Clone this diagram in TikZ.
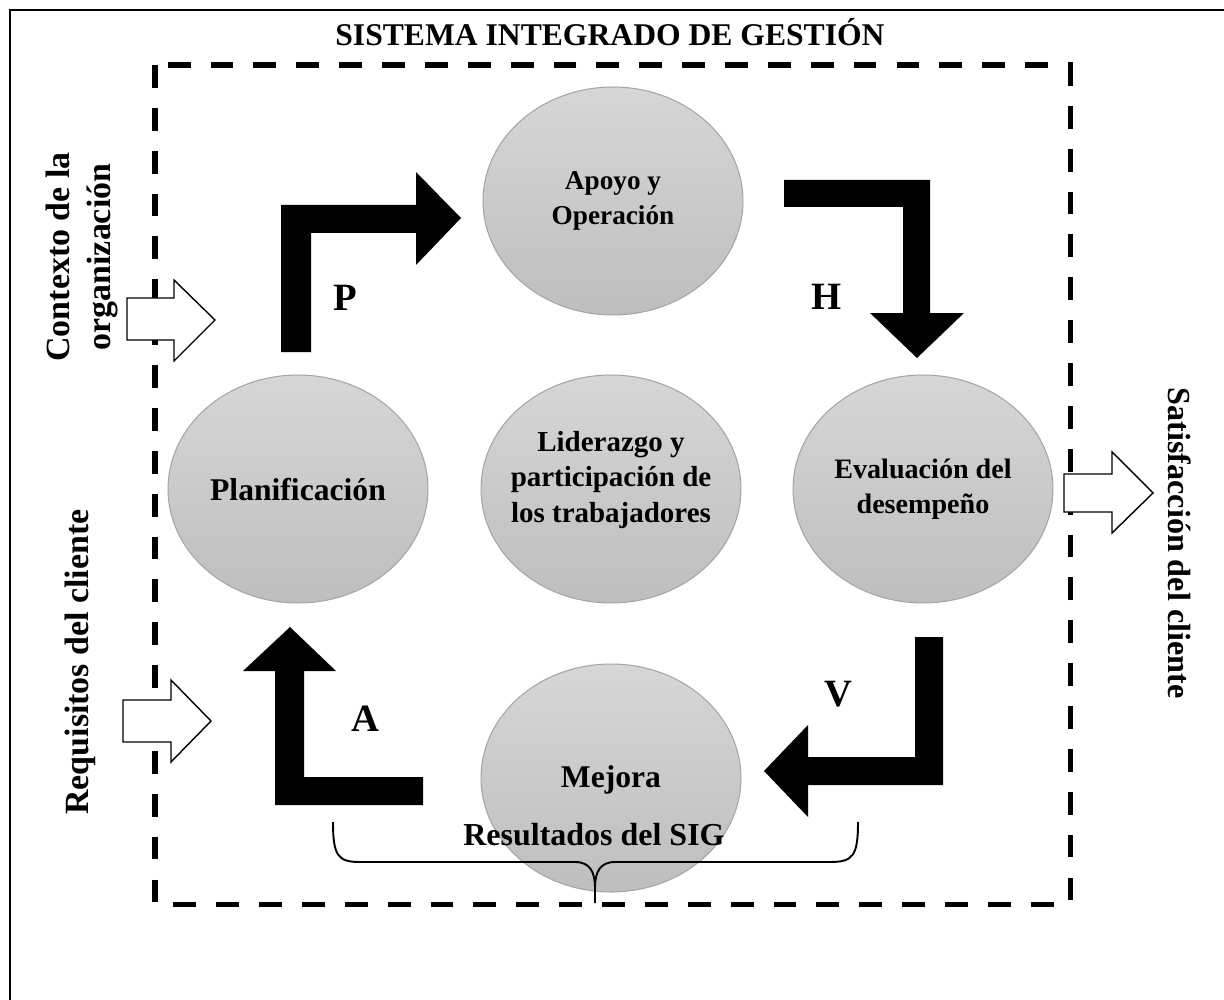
\documentclass[tikz,border=0pt]{standalone}
\usepackage{fontspec}
\setmainfont{Liberation Serif}
\usetikzlibrary{shapes.geometric}

\definecolor{elltop}{HTML}{D6D6D6}
\definecolor{ellbot}{HTML}{BEBEBE}
\definecolor{ellborde}{HTML}{A5A5A5}

\newcommand{\letrero}[1]{\bfseries\fontsize{#1}{20}\selectfont}

\tikzset{
  etapa/.style={ellipse, draw=ellborde, line width=0.6pt, top color=elltop, bottom color=ellbot,
    minimum width=5.2cm, minimum height=4.56cm, inner sep=0pt},
  texto/.style={align=center, inner sep=0pt},
  letra/.style={font=\bfseries\fontsize{22}{26}\selectfont},
  lateral/.style={align=center, font=\bfseries\fontsize{19.3}{23}\selectfont},
  flechanegra/.style={fill=black},
  flechablanca/.style={draw=black, fill=white, line width=0.8pt},
}

\begin{document}
\begin{tikzpicture}[x=0.02cm, y=-0.02cm]
  \useasboundingbox (0,0) rectangle (1224,1000);

  % Marco exterior
  \draw[line width=1.5pt] (10,1000) -- (10,10) -- (1224,10);

  % Titulo
  \node[anchor=base, font=\bfseries\fontsize{18}{22}\selectfont] (titulo) at (610,46) {SISTEMA INTEGRADO DE GESTIÓN};

  % Recuadro discontinuo
  \draw[line width=2.85pt, dash pattern=on 13pt off 11.4pt] (155,65) rectangle (1070,904);

  % Etapas
  \node[etapa] (apoyo) at (613,201) {};
  \node[etapa] (planif) at (298,489) {};
  \node[etapa] (lider) at (611,489) {};
  \node[etapa] (evalua) at (923,489) {};
  \node[etapa] (mejora) at (611,778) {};

  \node[texto, font=\letrero{15.5}] (apoyotxt) at (apoyo) {Apoyo y\\Operación};
  \node[texto, font=\letrero{18}] (planiftxt) at (298,490) {Planificación};
  \node[texto, font=\letrero{16.5}] (lidertxt) at (611,480) {Liderazgo y\\participación de\\los trabajadores};
  \node[texto, font=\letrero{16}] (evaluatxt) at (evalua) {Evaluación del\\desempeño};
  \node[texto, font=\letrero{18}] (mejoratxt) at (611,780) {Mejora};

  % Flechas del ciclo
  \fill[flechanegra] (281,352) -- (281,205) -- (416,205) -- (416,172) -- (461,218)
    -- (416,265) -- (416,233) -- (311,233) -- (311,352) -- cycle;
  \fill[flechanegra] (784,180) -- (930,180) -- (930,313) -- (964,313) -- (917,358)
    -- (870,313) -- (903,313) -- (903,207) -- (784,207) -- cycle;
  \fill[flechanegra] (943,637) -- (943,785) -- (808,785) -- (808,817) -- (764,771)
    -- (808,725) -- (808,757) -- (915,757) -- (915,637) -- cycle;
  \fill[flechanegra] (423,805) -- (275,805) -- (275,671) -- (243,671) -- (290,627)
    -- (336,671) -- (304,671) -- (304,777) -- (423,777) -- cycle;

  \node[letra] (p) at (345,298) {P};
  \node[letra] (h) at (827,297) {H};
  \node[letra] (v) at (838,694) {V};
  \node[letra] (a) at (365,719) {A};

  % Entradas y salida
  \draw[flechablanca] (127,298) -- (174,298) -- (174,280) -- (215,320) -- (174,361)
    -- (174,340) -- (127,340) -- cycle;
  \draw[flechablanca] (123,700) -- (171,700) -- (171,680) -- (211,721) -- (171,762)
    -- (171,742) -- (123,742) -- cycle;
  \draw[flechablanca] (1064,474) -- (1112,474) -- (1112,452) -- (1153,493) -- (1112,533)
    -- (1112,512) -- (1064,512) -- cycle;

  \node[lateral, rotate=90] (contexto) at (82,257) {Contexto de la\\organización};
  \node[lateral, rotate=90] (requisitos) at (80,662) {Requisitos del cliente};
  \node[lateral, rotate=-90, font=\bfseries\fontsize{18.3}{23}\selectfont] (satisf) at (1180,543) {Satisfacción del cliente};

  % Llave de resultados
  \node[anchor=base, font=\letrero{18.2}] (result) at (594,845) {Resultados del SIG};
  \draw[line width=1.1pt] (333,822) .. controls (333,856) and (338,862) .. (360,862)
    -- (575,862) .. controls (590,862) and (595,872) .. (595,888) -- (595,903)
    -- (595,888) .. controls (595,872) and (600,862) .. (615,862)
    -- (830,862) .. controls (853,862) and (858,856) .. (858,822);
\end{tikzpicture}
\end{document}
